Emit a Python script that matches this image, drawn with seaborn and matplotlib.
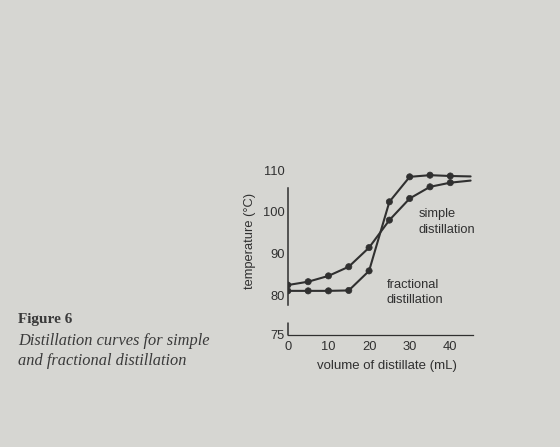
import seaborn as sns
import matplotlib.pyplot as plt
import pandas as pd

# values
volume = [0, 5, 10, 15, 20, 25, 30, 35, 40, 45]
simple = [82.4, 83.2, 84.6, 86.8, 91.4, 98.0, 103.2, 106.0, 107.0, 107.5]
fractional = [81.0, 81.0, 81.0, 81.1, 85.8, 102.4, 108.4, 108.8, 108.6, 108.5]
measured = [True] * 9 + [False]   # last point is only where the curve runs out

tick_x = [0, 10, 20, 30, 40]
tick_y = [75, 80, 90, 100, 110]

INK = '#303030'
PAPER = '#d6d6d2'
# broken axis: 75 sits lower than a linear scale would put it
Y75_POS = 70.4

df = pd.DataFrame({
    'volume': volume * 2,
    'temp': simple + fractional,
    'series': ['simple'] * len(volume) + ['fractional'] * len(volume),
    'measured': measured * 2,
})

sns.set_style('white')
plt.rcParams['font.family'] = ['Liberation Sans', 'DejaVu Sans']

fig = plt.figure(figsize=(5.6, 4.47), dpi=100, facecolor=PAPER)
ax = fig.add_axes([0.514, 0.2506, 0.33, 0.378])
ax.set_facecolor(PAPER)

pal = {'simple': INK, 'fractional': INK}
sns.lineplot(data=df, x='volume', y='temp', hue='series', palette=pal,
             linewidth=1.5, legend=False, ax=ax, sort=True)
sns.scatterplot(data=df[df['measured']], x='volume', y='temp', hue='series',
                palette=pal, s=20, edgecolor=INK, linewidth=0.5,
                legend=False, ax=ax, zorder=3)

ax.set_xlim(0, 45.5)
ax.set_ylim(Y75_POS, 111)

ax.set_xticks(tick_x)
ax.set_xticklabels([str(t) for t in tick_x])
ax.set_yticks([Y75_POS] + tick_y[1:])
ax.set_yticklabels([str(t) for t in tick_y])
ax.tick_params(direction='in', length=3, width=0.8, colors=INK,
               labelsize=9.3)
ax.tick_params(axis='x', pad=4)
ax.tick_params(axis='y', pad=2)

for s in ['top', 'right']:
    ax.spines[s].set_visible(False)
ax.spines['bottom'].set_color(INK)
ax.spines['bottom'].set_linewidth(0.9)
ax.spines['left'].set_color(INK)
ax.spines['left'].set_linewidth(1.1)
ax.spines['left'].set_bounds(77.6, 105.7)
# short stub of the axis under the break
ax.plot([0, 0], [Y75_POS, 73.2], color=INK, lw=1.1, clip_on=False)

ax.set_xlabel('volume of distillate (mL)', fontsize=9.5, color=INK)
ax.set_ylabel('temperature (°C)', fontsize=9.3, color=INK)
ax.xaxis.set_label_coords(0.535, -0.15)
ax.yaxis.set_label_coords(-0.175, 0.555)

ax.text(32.2, 97.6, 'simple\ndistillation', fontsize=9.3, color=INK,
        ha='left', va='center', linespacing=1.45)
ax.text(24.4, 80.6, 'fractional\ndistillation', fontsize=9.3, color=INK,
        ha='left', va='center', linespacing=1.3)

fig.text(0.032, 0.300, 'Figure 6', fontsize=11, fontweight='bold',
         family=['Liberation Serif'], color='#3a3a3a', va='top')
fig.text(0.032, 0.255, 'Distillation curves for simple', fontsize=11.8,
         style='italic', family=['Liberation Serif'], color='#3a3a3a', va='top')
fig.text(0.032, 0.210, 'and fractional distillation', fontsize=11.8,
         style='italic', family=['Liberation Serif'], color='#3a3a3a', va='top')

fig.savefig('out.png', dpi=100, facecolor=PAPER)
